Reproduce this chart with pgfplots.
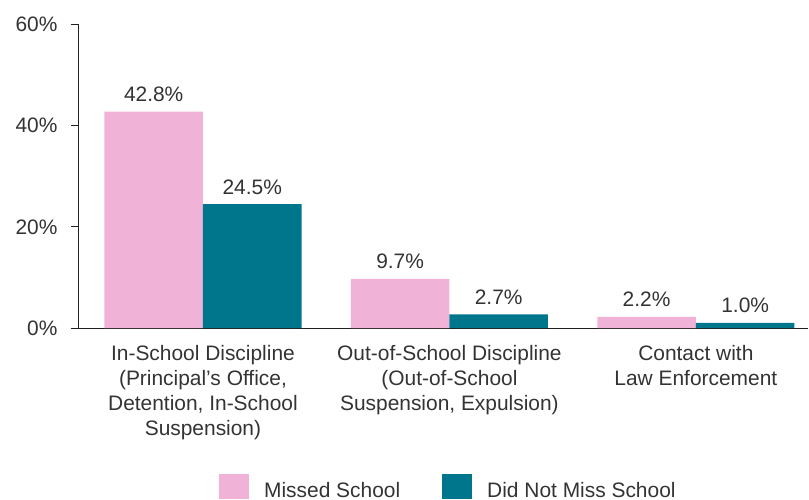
\documentclass[border=0pt]{standalone}
\usepackage{fontspec}
\setmainfont{Liberation Sans}
\usepackage{pgfplots}
\pgfplotsset{compat=1.18}
\definecolor{pinkc}{RGB}{240,178,214}
\definecolor{tealc}{RGB}{0,118,140}
\definecolor{txt}{RGB}{51,51,51}
\definecolor{axc}{RGB}{35,31,32}
\newcommand{\fs}{\fontsize{21}{25}\selectfont}
\begin{document}
\begin{tikzpicture}
\useasboundingbox (-79bp,-172bp) rectangle (730bp,328bp);
\begin{axis}[
  at={(0,0)}, anchor=south west,
  scale only axis, width=729bp, height=303.5bp,
  xmin=-0.503, xmax=2.455, ymin=0, ymax=60,
  axis x line*=bottom, axis y line*=left,
  axis line style={draw=axc, line width=1bp},
  ybar, bar width=0.4,
  /pgf/number format/assume math mode=true,
  xtick={0,1,2},
  xticklabels={{In-School Discipline\\(Principal’s Office,\\Detention, In-School\\Suspension)},
               {Out-of-School Discipline\\(Out-of-School\\Suspension, Expulsion)},
               {Contact with\\Law Enforcement}},
  xticklabel style={align=center, font=\fs, text=txt, inner sep=0pt, yshift=-9bp},
  xtick style={draw=none},
  ytick={0,20,40,60},
  yticklabel={\pgfmathprintnumber{\tick}\%},
  yticklabel style={font=\fs, text=txt, xshift=-10bp},
  ytick style={draw=axc, line width=1bp},
  tick align=outside, major tick length=8bp,
  nodes near coords={\pgfmathprintnumber[fixed,fixed zerofill,precision=1]{\pgfplotspointmeta}\%},
  nodes near coords style={font=\fs, text=txt, anchor=base, inner sep=0pt, yshift=10bp},
  legend columns=2,
  legend cell align=left,
  legend image code/.code={\fill[#1] (0bp,-9bp) rectangle (30bp,16bp);},
  legend style={draw=none, fill=none, font=\fs, text=txt, at={(0.192,-0.481)}, anchor=north west,
    inner sep=0pt, nodes={inner sep=0pt},
    /tikz/every odd column/.append style={column sep=15bp},
    /tikz/every even column/.append style={column sep=42bp}},
]
\addplot[fill=pinkc, draw=none, bar shift=-0.2] coordinates {(0,42.8) (1,9.7) (2,2.2)};
\addplot[fill=tealc, draw=none, bar shift=0.2] coordinates {(0,24.5) (1,2.7) (2,1.0)};
\legend{Missed School, Did Not Miss School}
\end{axis}
\end{tikzpicture}
\end{document}
